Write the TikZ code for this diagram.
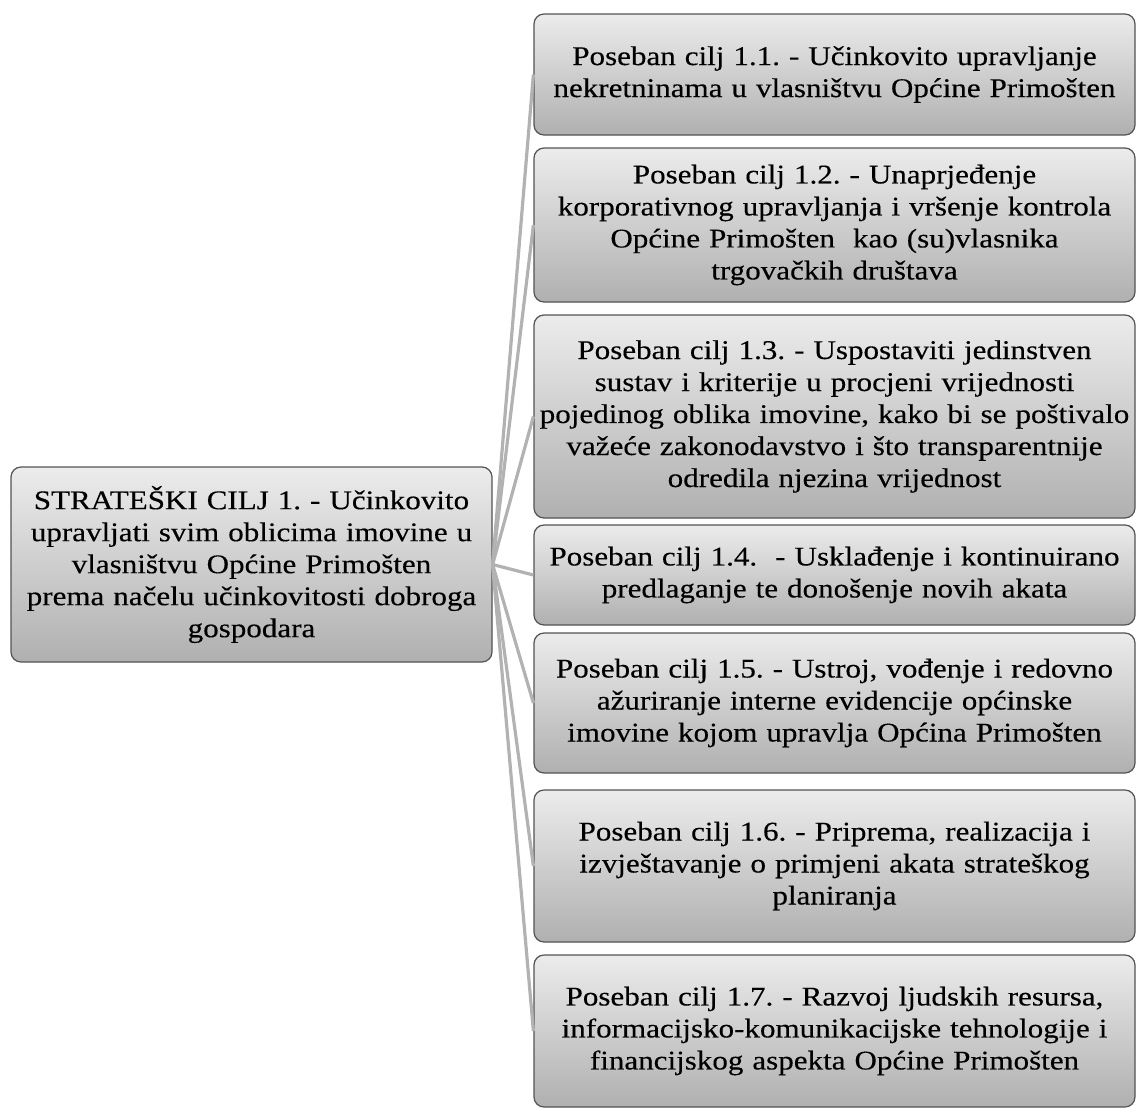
\documentclass[tikz,border=0pt]{standalone}
\usepackage{fontspec}
\setmainfont[FakeStretch=1.15,FakeBold=0.3]{Liberation Serif}
\frenchspacing

\begin{document}
\begin{tikzpicture}[
					x = 0.5pt, y = -0.5pt,
					cilj/.style = {draw=gray!65!black, line width=0.6pt, rounded corners=5pt,
						top color=gray!15, bottom color=gray!62, align=center, inner sep=2pt,
						font=\fontsize{13.5}{16}\selectfont},
					poseban/.style = {cilj, minimum width=300.5pt, text width=296pt},
					veza/.style = {gray!60, line width=1.6pt}
					]

					\useasboundingbox (0,0) rectangle (1137,1110);

					\node[cilj, minimum width=240.5pt, text width=236pt, minimum height=97.5pt] (strat) at (251.5,564.5)
						{STRATEŠKI CILJ 1. - Učinkovito\\ upravljati svim oblicima imovine u\\ vlasništvu Općine Primošten\\ prema načelu učinkovitosti dobroga\\ gospodara};

					\node[poseban, minimum height=60.5pt] (p1) at (834.5,74.5)
						{Poseban cilj 1.1. - Učinkovito upravljanje\\ nekretninama u vlasništvu Općine Primošten};
					\node[poseban, minimum height=77pt] (p2) at (834.5,225)
						{Poseban cilj 1.2. - Unaprjeđenje\\ korporativnog upravljanja i vršenje kontrola\\ Općine Primošten\ \ kao (su)vlasnika\\ trgovačkih društava};
					\node[poseban, minimum height=101.5pt] (p3) at (834.5,416.5)
						{Poseban cilj 1.3. - Uspostaviti jedinstven\\ sustav i kriterije u procjeni vrijednosti\\ pojedinog oblika imovine, kako bi se poštivalo\\ važeće zakonodavstvo i što transparentnije\\ odredila njezina vrijednost};
					\node[poseban, minimum height=50pt] (p4) at (834.5,575)
						{Poseban cilj 1.4.\ \ - Usklađenje i kontinuirano\\ predlaganje te donošenje novih akata};
					\node[poseban, minimum height=70pt] (p5) at (834.5,703)
						{Poseban cilj 1.5. - Ustroj, vođenje i redovno\\ ažuriranje interne evidencije općinske\\ imovine kojom upravlja Općina Primošten};
					\node[poseban, minimum height=76pt] (p6) at (834.5,866)
						{Poseban cilj 1.6. - Priprema, realizacija i\\ izvještavanje o primjeni akata strateškog\\ planiranja};
					\node[poseban, minimum height=76pt] (p7) at (834.5,1031)
						{Poseban cilj 1.7. - Razvoj ljudskih resursa,\\ informacijsko-komunikacijske tehnologije i\\ financijskog aspekta Općine Primošten};

					\foreach \i in {1,...,7}
						\draw[veza] (strat.east) -- (p\i.west);

				\end{tikzpicture}
\end{document}
